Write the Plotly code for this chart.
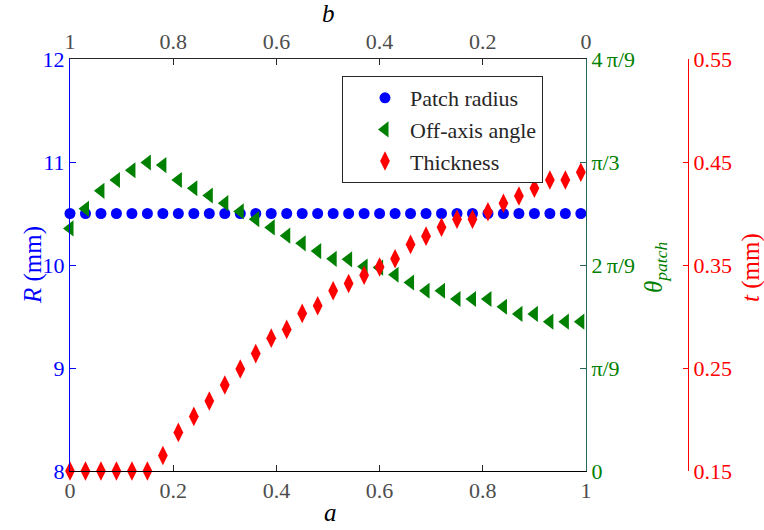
import plotly.graph_objects as go

# shape parameter a (0 to 0.99 in steps of 0.03); b runs the other way on the top axis
a_vals = [round(0.03 * i, 2) for i in range(34)]

# patch radius R (mm)
radius_mm = [10.5] * 34

# off-axis angle theta_patch, in degrees (80 deg = 4*pi/9)
theta_deg = [47.1, 50.9, 54.4, 56.5, 58.4, 59.9, 59.4, 56.5, 54.9, 53.5,
             52.0, 50.4, 48.9, 47.3, 45.7, 44.2, 42.7, 41.2, 41.1, 39.7,
             39.5, 38.1, 36.6, 35.0, 35.0, 33.4, 33.4, 33.4, 31.9, 30.5,
             30.5, 29.0, 29.0, 29.0]

# thickness t (mm)
thickness_mm = [0.150, 0.150, 0.150, 0.150, 0.150, 0.150, 0.165, 0.1875, 0.203, 0.218,
                0.2335, 0.249, 0.264, 0.279, 0.2875, 0.303, 0.3105, 0.325, 0.332, 0.340,
                0.348, 0.356, 0.370, 0.378, 0.3866, 0.3944, 0.3944, 0.4017, 0.410, 0.417,
                0.4245, 0.4325, 0.4325, 0.440]

x_ticks = [0, 0.2, 0.4, 0.6, 0.8, 1]
x_labels = ["0", "0.2", "0.4", "0.6", "0.8", "1"]
r_ticks = [8, 9, 10, 11, 12]
theta_ticks = [0, 20, 40, 60, 80]
theta_labels = ["0", "\u03c0/9", "2\u2009\u03c0/9", "\u03c0/3", "4\u2009\u03c0/9"]
t_ticks = [0.15, 0.25, 0.35, 0.45, 0.55]
t_labels = ["0.15", "0.25", "0.35", "0.45", "0.55"]

W, H = 764, 530
LEFT, RIGHT, TOP, BOTTOM = 70, 586, 59, 471
T_AXIS_X = 688

BLUE = "#0000ff"
GREEN = "#008000"
RED = "#ff0000"
AXIS_DARK = "#262626"
TICK_GRAY = "#4d4d4d"
THETA_LINE = "#26685a"
FONT = "Liberation Serif"
TICK_FONT = 22

fig = go.Figure()

fig.add_trace(go.Scatter(
    x=a_vals, y=radius_mm, mode="markers", name="Patch radius",
    marker=dict(symbol="circle", size=11, color=BLUE, line=dict(width=0)),
    xaxis="x", yaxis="y", cliponaxis=False))

fig.add_trace(go.Scatter(
    x=a_vals, y=theta_deg, mode="markers", name="Off-axis angle",
    marker=dict(symbol="triangle-left", size=14, color=GREEN, line=dict(width=0)),
    xaxis="x", yaxis="y2", cliponaxis=False))

fig.add_trace(go.Scatter(
    x=a_vals, y=thickness_mm, mode="markers", name="Thickness",
    marker=dict(symbol="diamond-tall", size=14, color=RED, line=dict(width=0)),
    xaxis="x", yaxis="y3", cliponaxis=False))

# empty trace so the top b-axis gets its own subplot and is drawn
fig.add_trace(go.Scatter(x=[], y=[], xaxis="x2", yaxis="y",
                         showlegend=False, hoverinfo="skip"))

xdom = [LEFT / W, RIGHT / W]
ydom = [1 - BOTTOM / H, 1 - TOP / H]

common = dict(showgrid=False, zeroline=False, automargin=False, linewidth=1)

fig.update_layout(
    width=W, height=H,
    margin=dict(l=0, r=0, t=0, b=0, autoexpand=False),
    paper_bgcolor="white", plot_bgcolor="white",
    font=dict(family=FONT, size=TICK_FONT, color=AXIS_DARK),
    showlegend=True,
    legend=dict(
        x=342 / W, y=1 - 76 / H, xanchor="left", yanchor="top",
        bgcolor="white", bordercolor=AXIS_DARK, borderwidth=1,
        font=dict(family=FONT, size=22, color=AXIS_DARK),
        itemwidth=40, indentation=17, tracegroupgap=0,
        entrywidth=165, entrywidthmode="pixels",
    ),
    xaxis=dict(
        domain=xdom, range=[0, 1], anchor="y",
        tickvals=x_ticks, ticktext=x_labels,
        ticks="inside", ticklen=6, tickcolor=AXIS_DARK,
        showline=True, linecolor="#000000",
        tickfont=dict(family=FONT, size=TICK_FONT, color=TICK_GRAY), **common,
    ),
    xaxis2=dict(
        domain=xdom, range=[1, 0], anchor="y", overlaying="x", side="top",
        tickvals=x_ticks, ticktext=x_labels,
        ticks="inside", ticklen=6, tickcolor=AXIS_DARK,
        showline=True, linecolor=AXIS_DARK,
        tickfont=dict(family=FONT, size=TICK_FONT, color=TICK_GRAY), **common,
    ),
    yaxis=dict(
        domain=ydom, range=[8, 12], anchor="x", side="left",
        tickvals=r_ticks, ticks="inside", ticklen=6, tickcolor=BLUE,
        showline=True, linecolor=BLUE,
        tickfont=dict(family=FONT, size=TICK_FONT, color=BLUE), **common,
    ),
    yaxis2=dict(
        domain=ydom, range=[0, 80], anchor="x", overlaying="y", side="right",
        tickvals=theta_ticks, ticktext=theta_labels,
        ticks="inside", ticklen=6, tickcolor=THETA_LINE,
        showline=True, linecolor=THETA_LINE,
        tickfont=dict(family=FONT, size=TICK_FONT, color=GREEN), **common,
    ),
    yaxis3=dict(
        domain=ydom, range=[0.15, 0.55], anchor="free", overlaying="y",
        side="right", position=T_AXIS_X / W,
        tickvals=t_ticks, ticktext=t_labels,
        ticks="inside", ticklen=5, tickcolor=RED,
        showline=True, linecolor=RED,
        tickfont=dict(family=FONT, size=TICK_FONT, color=RED), **common,
    ),
)

# axis titles
titles = [
    dict(text="<i>b</i>", x=328, y=14, color="#000000", angle=0, size=25),
    dict(text="<i>a</i>", x=330, y=512, color="#000000", angle=0, size=25),
    dict(text="<i>R</i> (mm)", x=33, y=265, color=BLUE, angle=-90, size=25),
    dict(text="<i>\u03b8</i><sub><i>patch</i></sub>", x=655, y=268, color=GREEN, angle=-90, size=25),
    dict(text="<i>t</i> (mm)", x=751, y=268, color=RED, angle=-90, size=25),
]
for t in titles:
    fig.add_annotation(
        text=t["text"], x=t["x"] / W, y=1 - t["y"] / H,
        xref="paper", yref="paper", xanchor="center", yanchor="middle",
        showarrow=False, textangle=t["angle"],
        font=dict(family=FONT, size=t["size"], color=t["color"]),
    )

fig.write_html("out.html")
